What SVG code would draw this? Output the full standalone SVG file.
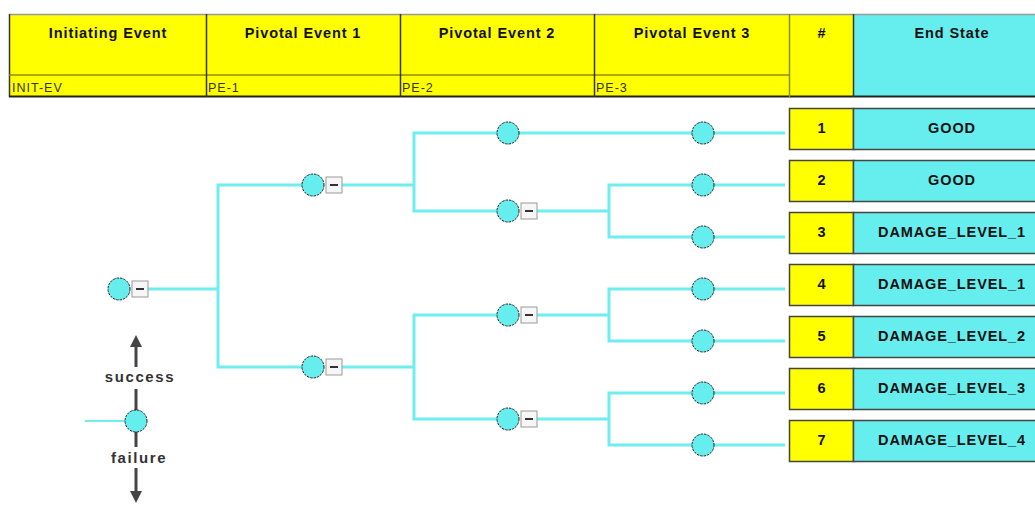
<svg xmlns="http://www.w3.org/2000/svg" width="1035" height="505" viewBox="0 0 1035 505">
<defs>
<style>
.hdr{fill:#ffff00}
.es{fill:#66eeee}
.sep{stroke:#333;stroke-width:1.5}
.olive{stroke:#8c8c00;stroke-width:1.5}
.ht{font-family:"Liberation Sans",Arial,sans-serif;font-weight:bold;font-size:14.5px;letter-spacing:0.9px;fill:#111;text-anchor:middle}
.st{font-family:"Liberation Sans",Arial,sans-serif;font-size:12.5px;letter-spacing:1px;fill:#333}
.conn{fill:none;stroke:#6eeeee;stroke-width:3;stroke-linejoin:miter}
.node{fill:#66eeee;stroke:#222;stroke-width:1;stroke-dasharray:2.5 1}
.mb{fill:#f6f6f6;stroke:#999;stroke-width:1}
.mi{stroke:#333;stroke-width:2}
.lt{font-family:"Liberation Sans",Arial,sans-serif;font-weight:bold;font-size:15px;letter-spacing:1.6px;fill:#333;text-anchor:middle}
.arr{stroke:#444;stroke-width:3}
</style>
<marker id="ah" markerWidth="4" markerHeight="4" refX="2" refY="2" orient="auto" markerUnits="strokeWidth" viewBox="0 0 4 4">
<path d="M0,0 L4,2 L0,4 z" fill="#444"/>
</marker>
</defs>
<rect width="1035" height="505" fill="#fff"/>

<g id="header">
<rect x="9" y="14" width="845" height="83" class="hdr"/>
<rect x="854" y="14" width="200" height="83" class="es"/>
<line x1="9" y1="14.5" x2="1035" y2="14.5" stroke="#999" stroke-width="1.5"/>
<line x1="9.5" y1="14" x2="9.5" y2="97" class="sep"/>
<line x1="9" y1="96.5" x2="1035" y2="96.5" stroke="#222" stroke-width="2"/>
<line x1="9" y1="75" x2="790" y2="75" class="olive"/>
<line x1="206.5" y1="14" x2="206.5" y2="97" class="sep"/>
<line x1="400.5" y1="14" x2="400.5" y2="97" class="sep"/>
<line x1="594.5" y1="14" x2="594.5" y2="97" class="sep"/>
<line x1="789.5" y1="14" x2="789.5" y2="97" class="olive"/>
<line x1="853.5" y1="14" x2="853.5" y2="97" class="sep"/>
<text x="108" y="38" class="ht">Initiating Event</text>
<text x="303" y="38" class="ht">Pivotal Event 1</text>
<text x="497" y="38" class="ht">Pivotal Event 2</text>
<text x="692" y="38" class="ht">Pivotal Event 3</text>
<text x="822" y="38" class="ht">#</text>
<text x="952" y="38" class="ht">End State</text>
<text x="12" y="92" class="st">INIT-EV</text>
<text x="208" y="92" class="st">PE-1</text>
<text x="402" y="92" class="st">PE-2</text>
<text x="596" y="92" class="st">PE-3</text>
</g>

<g id="connectors">
<polyline class="conn" points="148,289 218,289"/>
<polyline class="conn" points="313,185 218,185 218,367 313,367"/>
<polyline class="conn" points="342,185 414,185"/>
<polyline class="conn" points="508,133 414,133 414,211 508,211"/>
<polyline class="conn" points="508,133 785,133"/>
<polyline class="conn" points="537,211 609,211"/>
<polyline class="conn" points="785,185 609,185 609,237 785,237"/>
<polyline class="conn" points="342,367 414,367"/>
<polyline class="conn" points="508,315 414,315 414,419 508,419"/>
<polyline class="conn" points="537,315 609,315"/>
<polyline class="conn" points="785,289 609,289 609,341 785,341"/>
<polyline class="conn" points="537,419 609,419"/>
<polyline class="conn" points="785,393 609,393 609,445 785,445"/>
</g>

<g id="IE">
<circle cx="119" cy="289" r="11" class="node"/>
<rect x="132" y="281" width="16" height="16" class="mb"/><line x1="136" y1="289" x2="144" y2="289" class="mi"/>
</g>
<g id="PE1-up">
<circle cx="313" cy="185" r="11" class="node"/>
<rect x="326" y="177" width="16" height="16" class="mb"/><line x1="330" y1="185" x2="338" y2="185" class="mi"/>
</g>
<g id="PE1-down">
<circle cx="313" cy="367" r="11" class="node"/>
<rect x="326" y="359" width="16" height="16" class="mb"/><line x1="330" y1="367" x2="338" y2="367" class="mi"/>
</g>
<g id="PE2-a"><circle cx="508" cy="133" r="11" class="node"/></g>
<g id="PE2-b">
<circle cx="508" cy="211" r="11" class="node"/>
<rect x="521" y="203" width="16" height="16" class="mb"/><line x1="525" y1="211" x2="533" y2="211" class="mi"/>
</g>
<g id="PE2-c">
<circle cx="508" cy="315" r="11" class="node"/>
<rect x="521" y="307" width="16" height="16" class="mb"/><line x1="525" y1="315" x2="533" y2="315" class="mi"/>
</g>
<g id="PE2-d">
<circle cx="508" cy="419" r="11" class="node"/>
<rect x="521" y="411" width="16" height="16" class="mb"/><line x1="525" y1="419" x2="533" y2="419" class="mi"/>
</g>
<g id="PE3-1"><circle cx="703" cy="133" r="11" class="node"/></g>
<g id="PE3-2"><circle cx="703" cy="185" r="11" class="node"/></g>
<g id="PE3-3"><circle cx="703" cy="237" r="11" class="node"/></g>
<g id="PE3-4"><circle cx="703" cy="289" r="11" class="node"/></g>
<g id="PE3-5"><circle cx="703" cy="341" r="11" class="node"/></g>
<g id="PE3-6"><circle cx="703" cy="393" r="11" class="node"/></g>
<g id="PE3-7"><circle cx="703" cy="445" r="11" class="node"/></g>

<g id="end-1">
<rect x="789.5" y="108.5" width="64" height="41" class="hdr" stroke="#444" stroke-width="1.5"/>
<rect x="853.5" y="108.5" width="200" height="41" class="es" stroke="#444" stroke-width="1.5"/>
<text x="822" y="133" class="ht">1</text><text x="952" y="133" class="ht">GOOD</text>
</g>
<g id="end-2">
<rect x="789.5" y="160.5" width="64" height="41" class="hdr" stroke="#444" stroke-width="1.5"/>
<rect x="853.5" y="160.5" width="200" height="41" class="es" stroke="#444" stroke-width="1.5"/>
<text x="822" y="185" class="ht">2</text><text x="952" y="185" class="ht">GOOD</text>
</g>
<g id="end-3">
<rect x="789.5" y="212.5" width="64" height="41" class="hdr" stroke="#444" stroke-width="1.5"/>
<rect x="853.5" y="212.5" width="200" height="41" class="es" stroke="#444" stroke-width="1.5"/>
<text x="822" y="237" class="ht">3</text><text x="952" y="237" class="ht">DAMAGE_LEVEL_1</text>
</g>
<g id="end-4">
<rect x="789.5" y="264.5" width="64" height="41" class="hdr" stroke="#444" stroke-width="1.5"/>
<rect x="853.5" y="264.5" width="200" height="41" class="es" stroke="#444" stroke-width="1.5"/>
<text x="822" y="289" class="ht">4</text><text x="952" y="289" class="ht">DAMAGE_LEVEL_1</text>
</g>
<g id="end-5">
<rect x="789.5" y="316.5" width="64" height="41" class="hdr" stroke="#444" stroke-width="1.5"/>
<rect x="853.5" y="316.5" width="200" height="41" class="es" stroke="#444" stroke-width="1.5"/>
<text x="822" y="341" class="ht">5</text><text x="952" y="341" class="ht">DAMAGE_LEVEL_2</text>
</g>
<g id="end-6">
<rect x="789.5" y="368.5" width="64" height="41" class="hdr" stroke="#444" stroke-width="1.5"/>
<rect x="853.5" y="368.5" width="200" height="41" class="es" stroke="#444" stroke-width="1.5"/>
<text x="822" y="393" class="ht">6</text><text x="952" y="393" class="ht">DAMAGE_LEVEL_3</text>
</g>
<g id="end-7">
<rect x="789.5" y="420.5" width="64" height="41" class="hdr" stroke="#444" stroke-width="1.5"/>
<rect x="853.5" y="420.5" width="200" height="41" class="es" stroke="#444" stroke-width="1.5"/>
<text x="822" y="445" class="ht">7</text><text x="952" y="445" class="ht">DAMAGE_LEVEL_4</text>
</g>

<g id="legend">
<line x1="85" y1="421" x2="126" y2="421" stroke="#6eeeee" stroke-width="2"/>
<line x1="136" y1="389" x2="136" y2="447" class="arr"/>
<line x1="136" y1="367" x2="136" y2="341" class="arr" marker-end="url(#ah)"/>
<line x1="136" y1="468" x2="136" y2="497" class="arr" marker-end="url(#ah)"/>
<circle cx="136" cy="421" r="11" class="node" stroke="#666" stroke-dasharray="none"/>
<text x="140" y="382" class="lt">success</text>
<text x="139" y="463" class="lt">failure</text>
</g>
</svg>
